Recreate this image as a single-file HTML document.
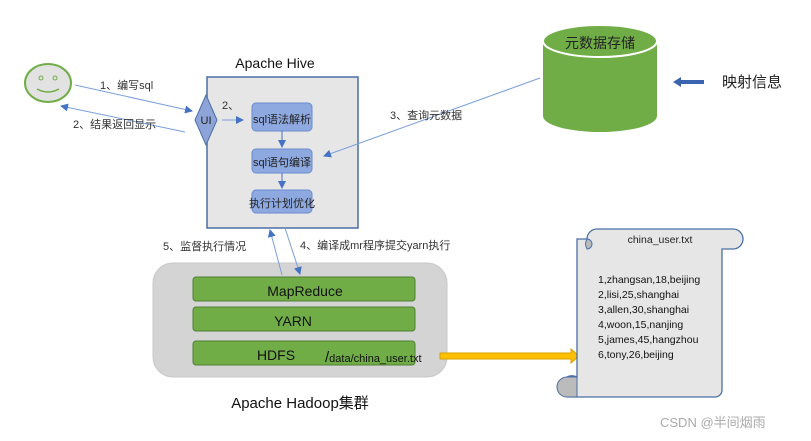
<html><body style="margin:0;background:#fff">
<svg width="811" height="441" viewBox="0 0 811 441" xmlns="http://www.w3.org/2000/svg" style="font-family:'Liberation Sans','Noto Sans CJK SC',sans-serif">
<defs>
<marker id="a" markerWidth="8" markerHeight="8" refX="7" refY="4" orient="auto" markerUnits="userSpaceOnUse"><path d="M0,0 L8,4 L0,8z" fill="#4472c4"/></marker>
</defs>
<!-- smiley -->
<ellipse cx="48" cy="83" rx="23" ry="19" fill="#e2e2e2" stroke="#70ad47" stroke-width="2"/>
<circle cx="41" cy="78" r="2" fill="none" stroke="#70ad47"/><circle cx="55" cy="78" r="2" fill="none" stroke="#70ad47"/>
<path d="M37,89 Q48,95 59,89" fill="none" stroke="#70ad47" stroke-width="1.5"/>
<line x1="75" y1="85" x2="192" y2="111" stroke="#7aa0dc" marker-end="url(#a)"/>
<line x1="185" y1="132" x2="61" y2="106" stroke="#7aa0dc" marker-end="url(#a)"/>
<text x="100" y="89" font-size="11" fill="#333">1、编写sql</text>
<text x="73" y="128" font-size="11" fill="#333">2、结果返回显示</text>
<!-- hive -->
<text x="275" y="68" font-size="14" text-anchor="middle" fill="#111">Apache Hive</text>
<rect x="207" y="77" width="151" height="151" fill="#e6e6e6" stroke="#4a6fa5" stroke-width="1.5"/>
<path d="M206,95 L217,120 L206,145 L195,120z" fill="#8ea4d8" stroke="#4a6fa5"/>
<text x="206" y="124" font-size="11" text-anchor="middle" fill="#222">UI</text>
<text x="222" y="109" font-size="11" fill="#333">2、</text>
<line x1="222" y1="120" x2="243" y2="120" stroke="#7aa0dc" marker-end="url(#a)"/>
<rect x="252" y="103" width="60" height="28" rx="4" fill="#8ea9e0" stroke="#6a8bd0"/>
<rect x="252" y="149" width="60" height="24" rx="4" fill="#8ea9e0" stroke="#6a8bd0"/>
<rect x="252" y="190" width="60" height="23" rx="4" fill="#8ea9e0" stroke="#6a8bd0"/>
<text x="282" y="123" font-size="11" text-anchor="middle" fill="#222">sql语法解析</text>
<text x="282" y="166" font-size="11" text-anchor="middle" fill="#222">sql语句编译</text>
<text x="282" y="207" font-size="11" text-anchor="middle" fill="#222">执行计划优化</text>
<line x1="282" y1="131" x2="282" y2="147" stroke="#4472c4" marker-end="url(#a)"/>
<line x1="282" y1="173" x2="282" y2="188" stroke="#4472c4" marker-end="url(#a)"/>
<!-- cylinder -->
<path d="M543,41 L543,116 A57,16 0 0 0 657,116 L657,41z" fill="#70ad47"/>
<ellipse cx="600" cy="41" rx="57" ry="16" fill="#70ad47" stroke="#fff" stroke-width="2"/>
<text x="600" y="48" font-size="14" text-anchor="middle" fill="#222">元数据存储</text>
<line x1="540" y1="78" x2="324" y2="156" stroke="#7aa0dc" marker-end="url(#a)"/>
<text x="390" y="119" font-size="11" fill="#333">3、查询元数据</text>
<path d="M704,80 L681,80 L681,77 L673,82 L681,87 L681,84 L704,84z" fill="#3a64b0"/>
<text x="722" y="87" font-size="15" fill="#222">映射信息</text>
<!-- hadoop -->
<rect x="153" y="263" width="294" height="114" rx="20" fill="#d4d4d4" stroke="#c8c8c8"/>
<rect x="193" y="277" width="222" height="24" rx="3" fill="#70ad47" stroke="#507e32"/>
<rect x="193" y="307" width="222" height="24" rx="3" fill="#70ad47" stroke="#507e32"/>
<rect x="193" y="341" width="222" height="24" rx="3" fill="#70ad47" stroke="#507e32"/>
<text x="305" y="296" font-size="14" text-anchor="middle" fill="#111">MapReduce</text>
<text x="293" y="326" font-size="14" text-anchor="middle" fill="#111">YARN</text>
<text x="276" y="360" font-size="14" text-anchor="middle" fill="#111">HDFS</text>
<text x="325" y="362" font-size="11" fill="#111"><tspan font-size="15">/</tspan>data/china_user.txt</text>
<line x1="282" y1="275" x2="270" y2="230" stroke="#7aa0dc" marker-end="url(#a)"/>
<line x1="285" y1="228" x2="300" y2="274" stroke="#7aa0dc" marker-end="url(#a)"/>
<text x="163" y="250" font-size="11" fill="#333">5、监督执行情况</text>
<text x="300" y="249" font-size="11" fill="#333">4、编译成mr程序提交yarn执行</text>
<path d="M440,353 L571,353 L571,349 L579,356 L571,363 L571,359 L440,359z" fill="#ffc000" stroke="#d9a000"/>
<text x="300" y="408" font-size="15" text-anchor="middle" fill="#111">Apache Hadoop集群</text>
<!-- scroll -->
<path d="M587,239 A10,10 0 0 1 597,229 L733,229 A10,10 0 0 1 733,249 L722,249 L722,390 A7,7 0 0 1 715,397 L567,397 A10,10 0 0 1 577,377 L577,239z" fill="#e6e6e6" stroke="#4a6fa5" stroke-width="1.3"/>
<path d="M587,239 A10,10 0 0 0 587,249 A5,5 0 0 0 587,239z" fill="#bbb" stroke="#4a6fa5"/>
<path d="M567,377 A10,10 0 0 0 567,397 L577,397 L577,377z" fill="#bbb" stroke="#4a6fa5"/>
<text x="660" y="243" font-size="10.5" text-anchor="middle" fill="#222">china_user.txt</text>
<g font-size="10.5" fill="#111">
<text x="598" y="283">1,zhangsan,18,beijing</text>
<text x="598" y="298">2,lisi,25,shanghai</text>
<text x="598" y="313">3,allen,30,shanghai</text>
<text x="598" y="328">4,woon,15,nanjing</text>
<text x="598" y="343">5,james,45,hangzhou</text>
<text x="598" y="358">6,tony,26,beijing</text>
</g>
<text x="660" y="427" font-size="13" fill="#aaa">CSDN @半间烟雨</text>
</svg>
</body></html>
